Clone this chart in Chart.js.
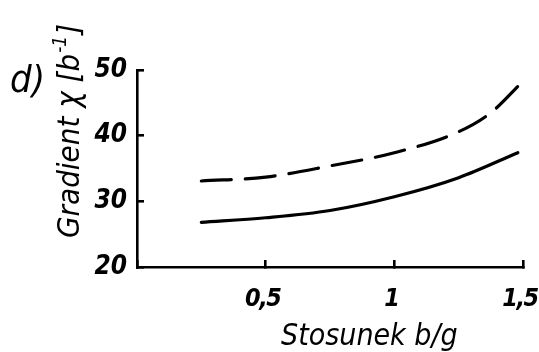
<!DOCTYPE html>
<html>
<head>
<meta charset="utf-8">
<script src="https://cdn.jsdelivr.net/npm/chart.js@4"></script>
<style>
  html, body { margin: 0; padding: 0; background: #fff; }
  #wrap { width: 539px; height: 352px; }
</style>
</head>
<body>
<div id="wrap"><canvas id="c" width="539" height="352"></canvas></div>
<script>
// Ratio b/g (x) and gradient values (y) for the two curves
const ratioSolid = [0.25, 0.5, 0.75, 1.0, 1.25, 1.48];
const gradientSolid = [26.8, 27.5, 28.6, 30.7, 33.6, 37.4];
const ratioDashed = [0.25, 0.5, 0.75, 1.0, 1.25, 1.375, 1.5];
const gradientDashed = [33.1, 33.7, 35.4, 37.4, 40.6, 43.5, 48.3];

// Axis ticks
const xTicks = [0, 0.5, 1, 1.5];
const yTicks = [20, 30, 40, 50];

// Texts
const panelLabel = 'd)';
const xTitle = 'Stosunek b/g';
const yTitleMain = 'Gradient \u03c7 [b';
const yTitleSup = '-1';
const yTitleEnd = ']';

const FAMILY = '"DejaVu Sans Condensed", "DejaVu Sans", sans-serif';
const INK = '#000';

const toPoints = (xs, ys) => xs.map((x, i) => ({ x, y: ys[i] }));

// Tighter lettering for the x tick labels
const tightXLabels = {
  id: 'tightXLabels',
  beforeDraw(chart) {
    const s = chart.scales.x;
    if (s && !s._tight) {
      const orig = s.drawLabels;
      s.drawLabels = function (area) {
        const c = this.ctx;
        c.save();
        c.letterSpacing = '-1.5px';
        orig.call(this, area);
        c.restore();
      };
      s._tight = true;
    }
  }
};

// Free-hand style titles and panel letter
const titlesPlugin = {
  id: 'titles',
  afterDraw(chart) {
    const ctx = chart.ctx;
    ctx.save();
    ctx.fillStyle = INK;
    ctx.textBaseline = 'alphabetic';
    ctx.textAlign = 'left';

    // panel letter
    ctx.font = 'italic 38px ' + FAMILY;
    ctx.fillText(panelLabel, 10, 92);

    // x axis title
    ctx.font = 'italic 30px ' + FAMILY;
    ctx.fillText(xTitle, 281, 345);

    // y axis title, rotated
    ctx.translate(79, 238);
    ctx.rotate(-Math.PI / 2);
    ctx.font = 'italic 31px ' + FAMILY;
    ctx.fillText(yTitleMain, 0, 0);
    let w = ctx.measureText(yTitleMain).width;
    ctx.font = 'italic 19px ' + FAMILY;
    ctx.fillText(yTitleSup, w + 1, -13);
    w += ctx.measureText(yTitleSup).width + 2;
    ctx.font = 'italic 31px ' + FAMILY;
    ctx.fillText(yTitleEnd, w, 0);
    ctx.restore();
  }
};

const noEdgePadding = (s) => {
  s.paddingLeft = 0;
  s.paddingRight = 0;
  s.paddingTop = 0;
  s.paddingBottom = 0;
};

new Chart(document.getElementById('c'), {
  type: 'line',
  data: {
    datasets: [
      {
        data: toPoints(ratioDashed, gradientDashed),
        borderColor: INK,
        borderWidth: 3.2,
        borderDash: [30, 14],
        borderCapStyle: 'round',
        pointRadius: 0,
        cubicInterpolationMode: 'monotone',
        fill: false
      },
      {
        data: toPoints(ratioSolid, gradientSolid),
        borderColor: INK,
        borderWidth: 3.2,
        borderCapStyle: 'round',
        pointRadius: 0,
        cubicInterpolationMode: 'monotone',
        fill: false
      }
    ]
  },
  options: {
    responsive: false,
    animation: false,
    devicePixelRatio: 1,
    layout: { padding: { top: 70, right: 16, left: 0, bottom: 0 } },
    plugins: { legend: { display: false }, tooltip: { enabled: false } },
    scales: {
      x: {
        type: 'linear',
        min: 0,
        max: 1.5,
        afterBuildTicks: (s) => { s.ticks = xTicks.map(v => ({ value: v })); },
        afterFit: (s) => { s.height = 85; noEdgePadding(s); },
        border: { display: true, color: INK, width: 2.6 },
        grid: { drawOnChartArea: false, drawTicks: true, tickLength: -7, color: INK, lineWidth: 2.6 },
        ticks: {
          color: INK,
          padding: 24,
          maxRotation: 0,
          labelOffset: -3,
          font: { family: FAMILY, size: 25, style: 'italic', weight: 'bold' },
          callback: (v) => v === 0 ? '' : String(v).replace('.', ',')
        }
      },
      y: {
        type: 'linear',
        min: 20,
        max: 50,
        afterBuildTicks: (s) => { s.ticks = yTicks.map(v => ({ value: v })); },
        afterFit: (s) => { s.width = 137; noEdgePadding(s); },
        border: { display: true, color: INK, width: 2.6 },
        grid: { drawOnChartArea: false, drawTicks: true, tickLength: -7, color: INK, lineWidth: 2.6 },
        ticks: {
          color: INK,
          padding: 17,
          font: { family: FAMILY, size: 26, style: 'italic', weight: 'bold' },
          callback: (v) => String(v)
        }
      }
    }
  },
  plugins: [tightXLabels, titlesPlugin]
});
</script>
</body>
</html>
